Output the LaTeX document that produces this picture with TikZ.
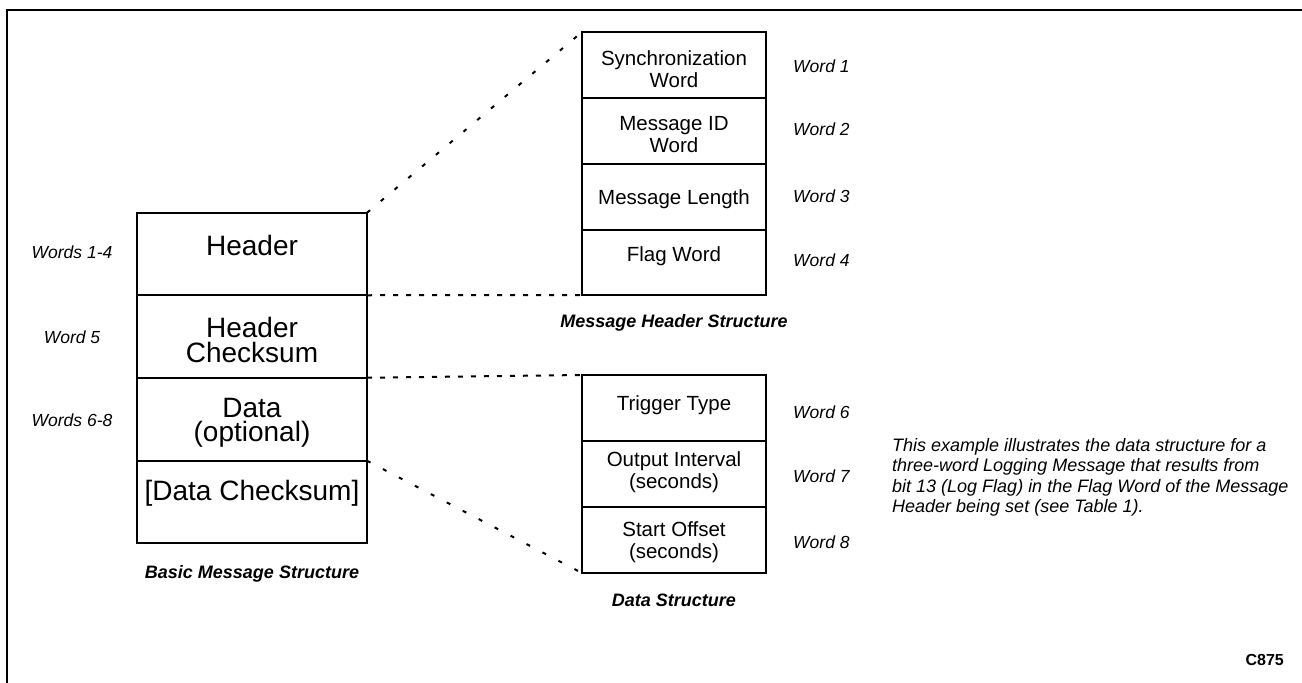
\documentclass[tikz,border=0pt]{standalone}
\usepackage{fontspec}
\setmainfont{Liberation Sans}
\begin{document}
\begin{tikzpicture}[x=1pt,y=-1pt,
  cell/.style={draw, line width=2pt, inner sep=0pt, outer sep=0pt},
  lcell/.style={cell, minimum width=230pt, minimum height=82.5pt},
  rcell/.style={cell, minimum width=184pt, minimum height=66pt},
  bigtxt/.style={font=\fontsize{28}{24.5}\selectfont, align=center, inner sep=0pt},
  midtxt/.style={font=\fontsize{20.5}{22}\selectfont, align=center, inner sep=0pt},
  wordlbl/.style={font=\fontsize{17.5}{20}\selectfont\itshape, inner sep=0pt, anchor=base west},
  leftlbl/.style={font=\fontsize{17.5}{20}\selectfont\itshape, inner sep=0pt, anchor=base},
  captxt/.style={font=\fontsize{18}{20}\selectfont\bfseries\itshape, inner sep=0pt, anchor=base},
  slant/.style={line width=2pt, dash pattern=on 4pt off 14pt},
  hdash/.style={line width=2pt, dash pattern=on 5pt off 8pt}
]
\useasboundingbox (0,0) rectangle (1302,683);
% frame
\draw[line width=2pt] (7,690) -- (7,10) -- (1310,10);

% basic message structure
\node[lcell] (b1) at (252,254) {};
\node[lcell] (b2) at (252,336.5) {};
\node[lcell] (b3) at (252,419.5) {};
\node[lcell] (b4) at (252,502) {};
\node[bigtxt] (tb1) at (252,245.5) {Header};
\node[bigtxt] (tb2) at (252,340) {Header\\Checksum};
\node[bigtxt] (tb3) at (252,423) {Data\\(optional)};
\node[bigtxt] (tb4) at (252,493) {[Data Checksum]};
\node[leftlbl] (lb1) at (72,258) {Words 1-4};
\node[leftlbl] (lb2) at (72,343) {Word 5};
\node[leftlbl] (lb3) at (72,426) {Words 6-8};
\node[captxt] (cb) at (252,578) {Basic Message Structure};

% header structure
\node[rcell, minimum height=66pt] (h1) at (674,65) {};
\node[rcell, minimum height=66pt] (h2) at (674,131) {};
\node[rcell, minimum height=66pt] (h3) at (674,197) {};
\node[rcell, minimum height=65pt] (h4) at (674,262.5) {};
\node[midtxt] (th1) at (674,69.5) {Synchronization\\Word};
\node[midtxt] (th2) at (674,135) {Message ID\\Word};
\node[midtxt] (th3) at (674,199.5) {Message Length};
\node[midtxt] (th4) at (674,256) {Flag Word};
\node[wordlbl] (wh1) at (793,72) {Word 1};
\node[wordlbl] (wh2) at (793,135) {Word 2};
\node[wordlbl] (wh3) at (793,202) {Word 3};
\node[wordlbl] (wh4) at (793,266) {Word 4};
\node[captxt] (ch) at (674,327) {Message Header Structure};

% data structure
\node[rcell] (d1) at (674,408) {};
\node[rcell] (d2) at (674,474) {};
\node[rcell] (d3) at (674,540) {};
\node[midtxt] (td1) at (674,405) {Trigger Type};
\node[midtxt] (td2) at (674,472.5) {Output Interval\\(seconds)};
\node[midtxt] (td3) at (674,542.5) {Start Offset\\(seconds)};
\node[wordlbl] (wd1) at (793,418) {Word 6};
\node[wordlbl] (wd2) at (793,482) {Word 7};
\node[wordlbl] (wd3) at (793,548) {Word 8};
\node[captxt] (cd) at (674,606) {Data Structure};

% connectors
\draw[slant] (b1.north east) -- (h1.north west);
\draw[hdash] (b1.south east) -- (h4.south west);
\draw[hdash] (b2.south east) -- (d1.north west);
\draw[slant] (b3.south east) -- (d3.south west);

% note
\node[font=\fontsize{18}{20.5}\selectfont\itshape, align=left, inner sep=0pt, anchor=north west] (note) at (892,438)
 {This example illustrates the data structure for a\\three-word Logging Message that results from\\bit 13 (Log Flag) in the Flag Word of the Message\\Header being set (see Table 1).};
\node[font=\fontsize{16}{18}\selectfont\bfseries, inner sep=0pt, anchor=base east] (code) at (1284,665) {C875};
\end{tikzpicture}
\end{document}
